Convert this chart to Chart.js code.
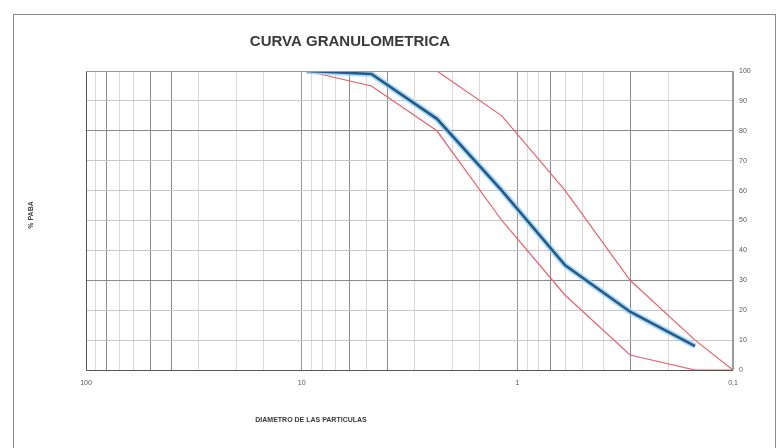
<!DOCTYPE html>
<html>
<head>
<meta charset="utf-8">
<script src="https://cdn.jsdelivr.net/npm/chart.js@4.4.1/dist/chart.umd.min.js"></script>
<style>
  html, body { margin: 0; padding: 0; background: #ffffff; }
  #wrap { width: 781px; height: 448px; position: relative; }
</style>
</head>
<body>
<div id="wrap"><canvas id="c" width="781" height="448"></canvas></div>
<script>
// Sieve sizes (mm) and % passing
const sieveSizes   = [9.5, 4.75, 2.36, 1.18, 0.6, 0.3, 0.15];
const percentPass  = [100, 99, 84, 60, 35, 19.5, 8];
const upperSizes   = [12.5, 9.5, 4.75, 2.36, 1.18, 0.6, 0.3, 0.15, 0.1];
const upperLimit   = [100, 100, 100, 100, 85, 60, 30, 10, 0];
const lowerSizes   = [12.5, 9.5, 4.75, 2.36, 1.18, 0.6, 0.3, 0.15, 0.1];
const lowerLimit   = [100, 100, 95, 80, 50, 25, 5, 0, 0];
const xTickLabels  = {100: '100', 10: '10', 1: '1', 0.1: '0,1'};
const yTicks       = [0, 10, 20, 30, 40, 50, 60, 70, 80, 90, 100];
const chartTitle   = 'CURVA GRANULOMETRICA';
const xTitle       = 'DIAMETRO DE LAS PARTICULAS';
const yTitle       = '% PABA';

const toXY = (xs, ys) => xs.map((x, i) => ({x: x, y: ys[i]}));

const darkX = [80, 50, 40, 6, 4, 1, 0.7, 0.3];
function near(v, arr) { return arr.some(a => Math.abs(Math.log10(v) - Math.log10(a)) < 0.004); }

const decor = {
  id: 'decor',
  beforeDraw(chart) {
    const ctx = chart.ctx;
    ctx.save();
    ctx.fillStyle = '#ffffff';
    ctx.fillRect(0, 0, chart.width, chart.height);
    ctx.strokeStyle = '#8a8a8a';
    ctx.lineWidth = 1;
    ctx.strokeRect(13.5, 14.5, 762, 460);
    ctx.restore();
  },
  afterDraw(chart) {
    const ctx = chart.ctx;
    const a = chart.chartArea;
    ctx.save();
    ctx.fillStyle = '#3a3a3a';
    ctx.textAlign = 'center';
    ctx.textBaseline = 'middle';
    ctx.font = 'bold 15px "Liberation Sans", Arial, sans-serif';
    ctx.fillText(chartTitle, 350, 42);
    ctx.font = 'bold 7px "Liberation Sans", Arial, sans-serif';
    ctx.fillText(xTitle, 311, 420);
    ctx.translate(31, 215);
    ctx.rotate(-Math.PI / 2);
    ctx.fillText(yTitle, 0, 0);
    ctx.restore();
    // plot frame
    ctx.save();
    ctx.strokeStyle = '#555';
    ctx.lineWidth = 1;
    ctx.beginPath();
    ctx.moveTo(a.left + 0.5, a.top);
    ctx.lineTo(a.left + 0.5, a.bottom + 0.5);
    ctx.lineTo(a.right, a.bottom + 0.5);
    ctx.stroke();
    ctx.strokeStyle = '#999';
    ctx.beginPath();
    ctx.moveTo(a.left, a.top + 0.5);
    ctx.lineTo(a.right - 0.5, a.top + 0.5);
    ctx.lineTo(a.right - 0.5, a.bottom);
    ctx.stroke();
    ctx.restore();
  }
};

new Chart(document.getElementById('c'), {
  type: 'line',
  data: {
    datasets: [
      { label: 'Límite superior', data: toXY(upperSizes, upperLimit), borderColor: '#e8606e', borderWidth: 1.2, pointRadius: 0, tension: 0, order: 3 },
      { label: 'Límite inferior', data: toXY(lowerSizes, lowerLimit), borderColor: '#e8606e', borderWidth: 1.2, pointRadius: 0, tension: 0, order: 3 },
      { label: 'halo', data: toXY(sieveSizes, percentPass), borderColor: 'rgba(150,210,245,0.8)', borderWidth: 6, pointRadius: 0, tension: 0, order: 2 },
      { label: '% Pasa', data: toXY(sieveSizes, percentPass), borderColor: '#25598a', borderWidth: 2.6, pointRadius: 0, tension: 0, order: 1 }
    ]
  },
  options: {
    responsive: false,
    animation: false,
    devicePixelRatio: 1,
    layout: { padding: { left: 86, top: 71, right: 0, bottom: 0 } },
    plugins: { legend: { display: false }, tooltip: { enabled: false }, title: { display: false } },
    scales: {
      x: {
        type: 'logarithmic',
        reverse: true,
        min: 0.1,
        max: 100,
        afterFit(s) { s.height = 78; },
        border: { display: false },
        grid: {
          drawTicks: false,
          color(ctx) {
            const v = ctx.tick ? ctx.tick.value : 0;
            if (near(v, [100, 10, 1, 0.1])) return '#9a9a9a';
            return near(v, darkX) ? '#8c8c8c' : '#d9d9d9';
          },
          lineWidth: 1
        },
        ticks: {
          autoSkip: false,
          maxRotation: 0,
          padding: 9,
          color: '#555',
          font: { size: 7, family: '"Liberation Sans", Arial, sans-serif' },
          callback(v) {
            for (const k in xTickLabels) { if (Math.abs(Math.log10(v) - Math.log10(+k)) < 0.001) return xTickLabels[k]; }
            return '';
          }
        }
      },
      y: {
        position: 'right',
        min: 0,
        max: 100,
        afterFit(s) { s.width = 48; },
        afterBuildTicks(s) { s.ticks = yTicks.map(v => ({value: v})); },
        border: { display: false },
        grid: {
          drawTicks: false,
          color(ctx) {
            const v = ctx.tick ? ctx.tick.value : 0;
            return (v === 80 || v === 30) ? '#8c8c8c' : '#c8c8c8';
          }
        },
        ticks: {
          padding: 6,
          color: '#555',
          font: { size: 7, family: '"Liberation Sans", Arial, sans-serif' }
        }
      }
    }
  },
  plugins: [decor]
});
</script>
</body>
</html>
